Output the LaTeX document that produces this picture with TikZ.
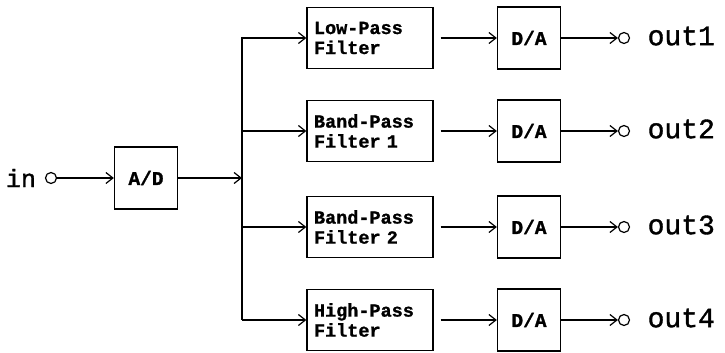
\documentclass[tikz,border=0pt]{standalone}
\usepackage{fontspec}
\usetikzlibrary{arrows.meta}
\newfontfamily\boxfont{Liberation Mono}[BoldFeatures={FakeBold=1.2}]
\newfontfamily\labfont{Liberation Mono}[FakeBold=1.3]
\begin{document}
\begin{tikzpicture}[x=1pt,y=-1pt,
  line width=1.3pt,
  arr/.style={-{Straight Barb[length=7pt,width=11pt,line width=1.2pt]}},
  filt/.style={draw, minimum width=126pt, minimum height=61pt, inner xsep=7pt,
    text width=112pt, align=left, font=\boxfont\bfseries\fontsize{18.5}{20}\selectfont},
  conv/.style={draw, minimum width=63pt, minimum height=62pt,
    font=\boxfont\bfseries\fontsize{19.5}{20}\selectfont},
  term/.style={draw, circle, minimum size=11pt, inner sep=0pt, line width=1.2pt},
  lab/.style={font=\labfont\fontsize{28}{30}\selectfont, inner sep=0pt}
]
\useasboundingbox (0,0) rectangle (725,353);

\node[lab, font=\labfont\fontsize{25}{28}\selectfont] (in) at (21,178) {in};
\node[term] (cin) at (51,178) {};
\node[conv] (ad) at (146,178) {A/D};
\coordinate (bus) at (242,178);
\coordinate (top) at (242,37);
\coordinate (bot) at (242,320);

\draw[arr] (cin) -- (ad);
\draw[arr] (ad) -- (bus);
\draw (top) -- (bot);

\foreach \i/\y/\txt in {1/38/{Low-Pass\\Filter},2/131/{Band-Pass\\Filter 1},3/227/{Band-Pass\\Filter 2},4/320/{High-Pass\\Filter}}{
  \node[filt] (f\i) at (370,\y) {\txt};
  \node[conv] (da\i) at (529,\y) {D/A};
  \node[term] (o\i) at (624,\y) {};
  \node[lab, anchor=west] (t\i) at (647,\y-2) {out\i};
  \coordinate (b\i) at (242,\y);
  \draw[arr] (b\i) -- (f\i);
  \draw[arr, shorten <=7pt] (f\i) -- (da\i);
  \draw[arr] (da\i) -- (o\i);
}
\end{tikzpicture}
\end{document}
